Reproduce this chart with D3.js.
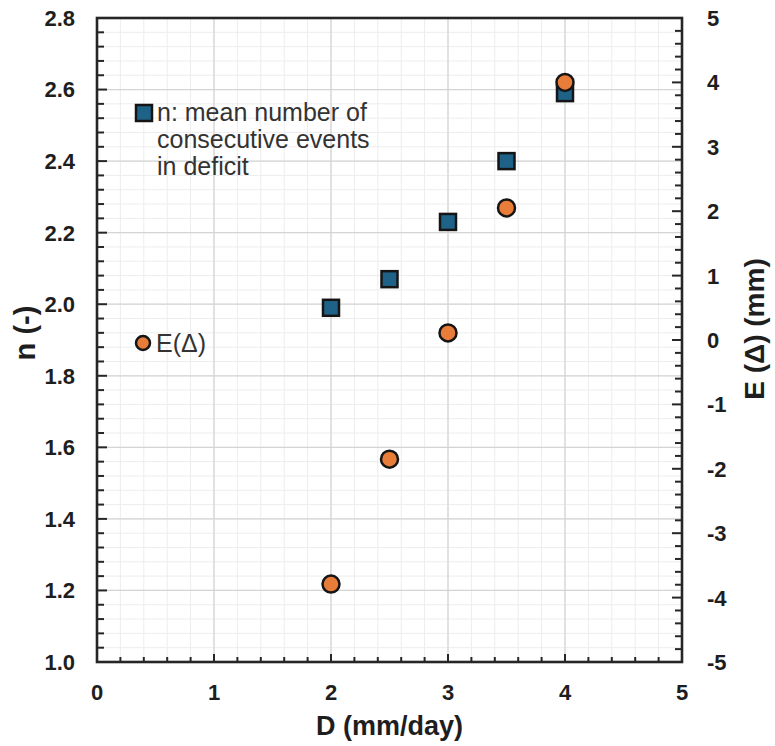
<!DOCTYPE html>
<html>
<head>
<meta charset="utf-8">
<script src="https://cdn.jsdelivr.net/npm/d3@7"></script>
<style>
  html, body { margin: 0; padding: 0; background: #fff; }
  svg { display: block; font-family: 'Liberation Sans', Arial, sans-serif; }
</style>
</head>
<body>
<svg id="chart" width="775" height="746"></svg>
<script>
// data
const dValues = [2, 2.5, 3, 3.5, 4];
const nValues = [1.99, 2.07, 2.23, 2.40, 2.59];
const eValues = [-3.79, -1.85, 0.11, 2.05, 4.00];

const xTicks = [0, 1, 2, 3, 4, 5];
const nTicks = [1.0, 1.2, 1.4, 1.6, 1.8, 2.0, 2.2, 2.4, 2.6, 2.8];
const eTicks = [-5, -4, -3, -2, -1, 0, 1, 2, 3, 4, 5];

const legendN = ['n: mean number of', 'consecutive events', 'in deficit'];
const legendE = 'E(\u0394)';

const svg = d3.select('#chart');

const PLOT = { left: 97, right: 682, top: 18, bottom: 662 };
const axisColor = '#262626';
const textColor = '#1e1e1e';
const squareFill = '#1f6287';
const circleFill = '#e87d3a';

const x = d3.scaleLinear().domain([0, 5]).range([PLOT.left, PLOT.right]);
const yN = d3.scaleLinear().domain([1.0, 2.8]).range([PLOT.bottom, PLOT.top]);
const yE = d3.scaleLinear().domain([-5, 5]).range([PLOT.bottom, PLOT.top]);

const W = PLOT.right - PLOT.left;
const H = PLOT.bottom - PLOT.top;

// grid: minor first, then major
const xMinor = d3.range(0, 5.0001, 0.2);
const nMinor = d3.range(1.0, 2.8001, 0.04);
const eMinor = d3.range(-5, 5.0001, 0.2);

const grid = svg.append('g');
grid.selectAll('line.vmin').data(xMinor).join('line')
    .attr('x1', d => x(d)).attr('x2', d => x(d))
    .attr('y1', PLOT.top).attr('y2', PLOT.bottom)
    .attr('stroke', '#ededed').attr('stroke-width', 1);
grid.selectAll('line.hmin').data(nMinor).join('line')
    .attr('x1', PLOT.left).attr('x2', PLOT.right)
    .attr('y1', d => yN(d)).attr('y2', d => yN(d))
    .attr('stroke', '#ededed').attr('stroke-width', 1);
grid.selectAll('line.vmaj').data(xTicks).join('line')
    .attr('x1', d => x(d)).attr('x2', d => x(d))
    .attr('y1', PLOT.top).attr('y2', PLOT.bottom)
    .attr('stroke', '#d4d4d4').attr('stroke-width', 1.2);
grid.selectAll('line.hmaj').data(nTicks).join('line')
    .attr('x1', PLOT.left).attr('x2', PLOT.right)
    .attr('y1', d => yN(d)).attr('y2', d => yN(d))
    .attr('stroke', '#d4d4d4').attr('stroke-width', 1.2);

// inward ticks
const isMajor = (v, step) => Math.abs(v / step - Math.round(v / step)) < 1e-6;

const ticks = svg.append('g').attr('stroke', axisColor).attr('stroke-width', 2);
ticks.selectAll('line.lt').data(nMinor).join('line')
    .attr('x1', PLOT.left).attr('x2', d => PLOT.left + (isMajor(d, 0.2) ? 10 : 7))
    .attr('y1', d => yN(d)).attr('y2', d => yN(d));
ticks.selectAll('line.rt').data(eMinor).join('line')
    .attr('x1', PLOT.right).attr('x2', d => PLOT.right - (isMajor(d, 1) ? 10 : 7))
    .attr('y1', d => yE(d)).attr('y2', d => yE(d));
ticks.selectAll('line.bt').data(xMinor).join('line')
    .attr('x1', d => x(d)).attr('x2', d => x(d))
    .attr('y1', PLOT.bottom).attr('y2', d => PLOT.bottom - (isMajor(d, 1) ? 8 : 5));

// frame
svg.append('rect')
    .attr('x', PLOT.left).attr('y', PLOT.top)
    .attr('width', W).attr('height', H)
    .attr('fill', 'none')
    .attr('stroke', axisColor)
    .attr('stroke-width', 2.6);

// tick labels
const labels = svg.append('g')
    .style('fill', textColor)
    .style('font-size', '22px')
    .style('font-weight', 'bold');

labels.selectAll('text.ln').data(nTicks).join('text')
    .attr('x', PLOT.left - 22)
    .attr('y', d => yN(d))
    .attr('dy', '0.36em')
    .attr('text-anchor', 'end')
    .text(d => d.toFixed(1));

labels.selectAll('text.re').data(eTicks).join('text')
    .attr('x', PLOT.right + 25)
    .attr('y', d => yE(d))
    .attr('dy', '0.36em')
    .attr('text-anchor', 'start')
    .text(d => String(d));

labels.selectAll('text.bx').data(xTicks).join('text')
    .attr('x', d => x(d))
    .attr('y', 700)
    .attr('text-anchor', 'middle')
    .text(d => d);

// axis titles
svg.append('text')
    .attr('x', (PLOT.left + PLOT.right) / 2)
    .attr('y', 735)
    .attr('text-anchor', 'middle')
    .style('fill', textColor)
    .style('font-size', '27px')
    .style('font-weight', 'bold')
    .text('D (mm/day)');

svg.append('text')
    .attr('transform', 'translate(35,333) rotate(-90)')
    .attr('text-anchor', 'middle')
    .style('fill', textColor)
    .style('font-size', '29px')
    .style('font-weight', 'bold')
    .text('n (-)');

svg.append('text')
    .attr('transform', 'translate(764,329) rotate(-90)')
    .attr('text-anchor', 'middle')
    .style('fill', textColor)
    .style('font-size', '28px')
    .style('font-weight', 'bold')
    .text('E (\u0394) (mm)');

// data marks
const pts = dValues.map((d, i) => ({ d, n: nValues[i], e: eValues[i] }));
const SQ = 16;

svg.append('g').selectAll('rect').data(pts).join('rect')
    .attr('x', p => x(p.d) - SQ / 2)
    .attr('y', p => yN(p.n) - SQ / 2)
    .attr('width', SQ).attr('height', SQ)
    .attr('fill', squareFill)
    .attr('stroke', '#151515')
    .attr('stroke-width', 2.5);

svg.append('g').selectAll('circle').data(pts).join('circle')
    .attr('cx', p => x(p.d))
    .attr('cy', p => yE(p.e))
    .attr('r', 8.5)
    .attr('fill', circleFill)
    .attr('stroke', '#151515')
    .attr('stroke-width', 2.5);

// legends
svg.append('rect')
    .attr('x', 144 - 8).attr('y', 113 - 8)
    .attr('width', 16).attr('height', 16)
    .attr('fill', squareFill)
    .attr('stroke', '#151515')
    .attr('stroke-width', 2.5);

svg.append('g').selectAll('text').data(legendN).join('text')
    .attr('x', 157)
    .attr('y', (d, i) => 121 + i * 27)
    .style('fill', '#333')
    .style('font-size', '25px')
    .text(d => d);

svg.append('circle')
    .attr('cx', 143).attr('cy', 343)
    .attr('r', 7)
    .attr('fill', circleFill)
    .attr('stroke', '#151515')
    .attr('stroke-width', 2.5);

svg.append('text')
    .attr('x', 156)
    .attr('y', 352)
    .style('fill', '#333')
    .style('font-size', '25px')
    .text(legendE);
</script>
</body>
</html>
